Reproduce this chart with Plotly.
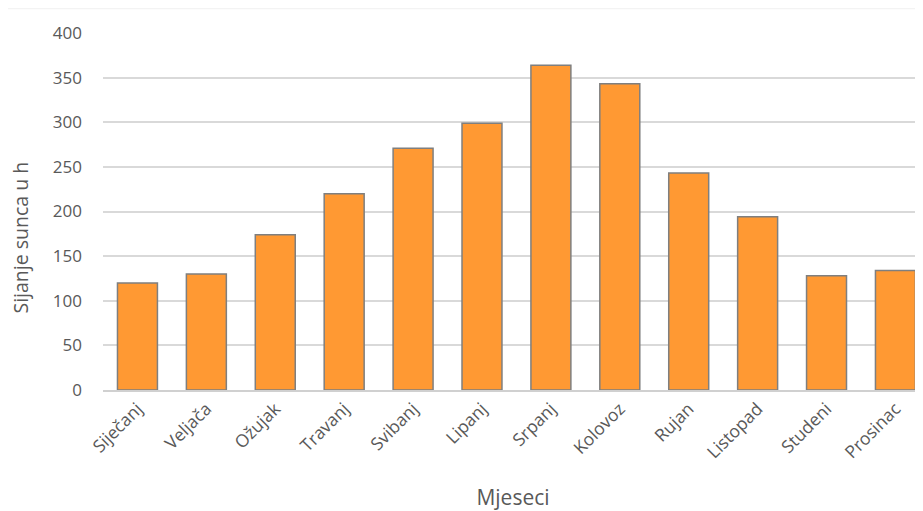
import plotly.graph_objects as go

months = ["Siječanj", "Veljača", "Ožujak", "Travanj", "Svibanj", "Lipanj",
          "Srpanj", "Kolovoz", "Rujan", "Listopad", "Studeni", "Prosinac"]
sun_hours = [120, 130, 174, 220, 271, 299, 364, 343, 243, 194, 128, 134]
y_ticks = [0, 50, 100, 150, 200, 250, 300, 350, 400]

fig = go.Figure()
fig.add_trace(go.Bar(
    x=months, y=sun_hours,
    marker=dict(color="#FF9933", line=dict(color="#7F7F7F", width=1.5)),
))

font_family = "Open Sans, Liberation Sans, sans-serif"
fig.update_layout(
    width=915, height=503,
    margin=dict(l=95, r=0, t=25, b=121),
    paper_bgcolor="white", plot_bgcolor="white",
    bargap=0.42,
    showlegend=False,
    font=dict(family=font_family, color="#595959", size=13),
    xaxis=dict(
        range=[-0.5, 11.4],
        tickangle=-45,
        tickfont=dict(size=17.5, color="#595959"),
        showgrid=False,
        showline=True, linecolor="#D0D0D0", linewidth=1.5,
        ticks="",
        automargin=False,
        title=dict(text="Mjeseci", font=dict(size=21, color="#595959"), standoff=32),
    ),
    yaxis=dict(
        range=[0, 400],
        tickvals=y_ticks,
        tickfont=dict(size=17, color="#595959"),
        showgrid=True, gridcolor="#D9D9D9", gridwidth=1.5,
        zeroline=False,
        ticks="",
        ticklabelstandoff=20,
        automargin=False,
    ),
    annotations=[dict(text="Sijanje sunca u h", textangle=-90,
                      xref="paper", yref="paper", x=-0.1005, y=0.426,
                      xanchor="center", yanchor="middle", showarrow=False,
                      font=dict(size=19.5, color="#595959"))],
    shapes=[dict(type="line", xref="paper", yref="paper",
                 x0=-0.2, x1=1.0, y0=1.068, y1=1.068,
                 line=dict(color="#F0F0F0", width=1))],
)

fig.write_html("out.html")
